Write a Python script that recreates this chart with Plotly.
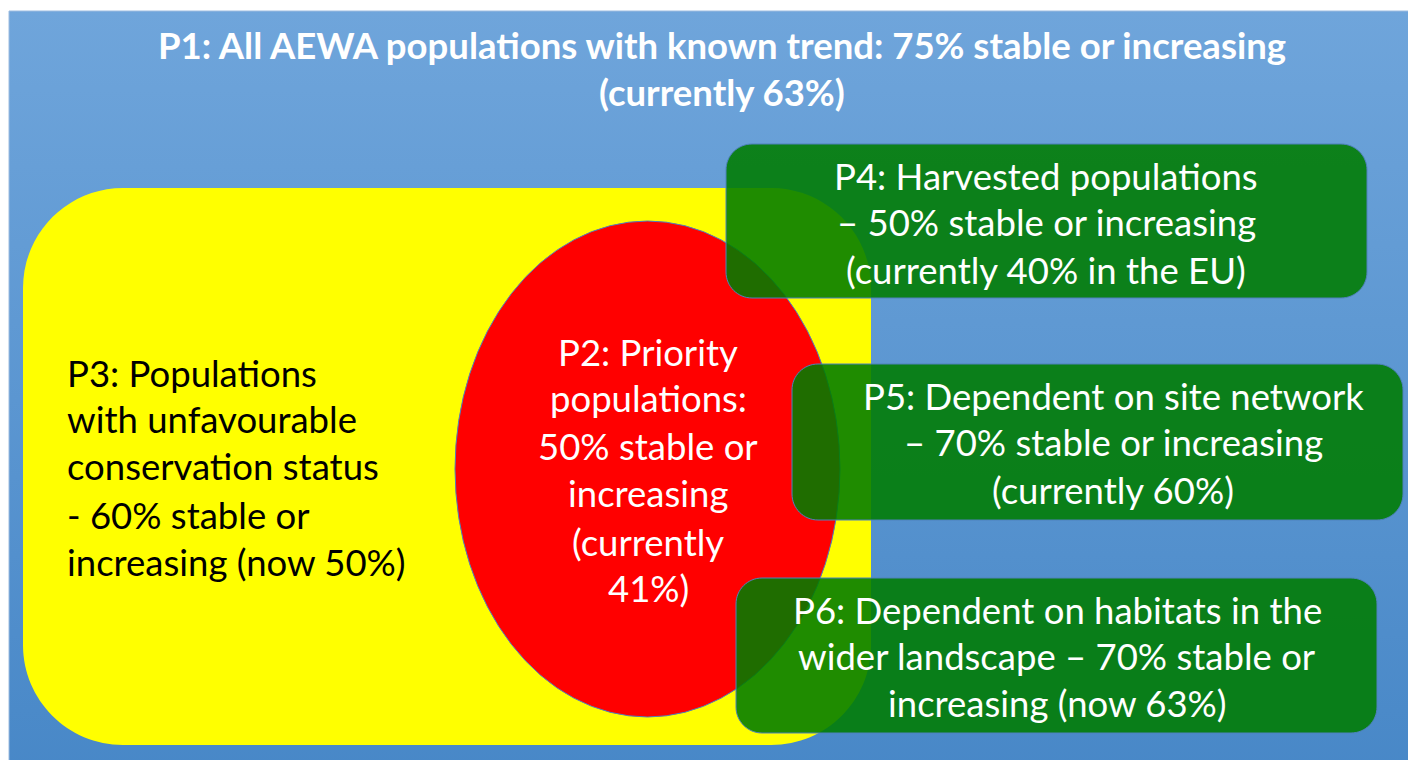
import plotly.graph_objects as go

# ---- content (text) ----
title_lines = ["P1: All AEWA populations with known trend: 75% stable or increasing",
               "(currently 63%)"]
p2_lines = ["P2: Priority", "populations:", "50% stable or", "increasing", "(currently", "41%)"]
p3_lines = ["P3: Populations", "with unfavourable", "conservation status",
            "- 60% stable or", "increasing (now 50%)"]
p4_lines = ["P4: Harvested populations", "– 50% stable or increasing", "(currently 40% in the EU)"]
p5_lines = ["P5: Dependent on site network", "– 70% stable or increasing", "(currently 60%)"]
p6_lines = ["P6: Dependent on habitats in the", "wider landscape – 70% stable or",
            "increasing (now 63%)"]

W, H = 1416, 760
OFF = 8  # page body offset of the figure
FONT = "Lato"
BLUE_TOP, BLUE_BOT = "#6FA5DB", "#4787C7"
YELLOW, RED = "#FFFF00", "#FF0000"
GREEN = "rgba(0,124,0,0.88)"
EDGE = "#4F81BD"


def rrect(x0, y0, x1, y1, r):
    x0, y0, x1, y1 = x0 - OFF, y0 - OFF, x1 - OFF, y1 - OFF
    k = 0.5523 * r
    return (f"M{x0+r},{y0} L{x1-r},{y0} C{x1-r+k},{y0} {x1},{y0+r-k} {x1},{y0+r} "
            f"L{x1},{y1-r} C{x1},{y1-r+k} {x1-r+k},{y1} {x1-r},{y1} "
            f"L{x0+r},{y1} C{x0+r-k},{y1} {x0},{y1-r+k} {x0},{y1-r} "
            f"L{x0},{y0+r} C{x0},{y0+r-k} {x0+r-k},{y0} {x0+r},{y0} Z")


fig = go.Figure()

# gradient background
bx0, by0, bx1, by1 = 9 - OFF, 11 - OFF, W + 20, H + 20
fig.add_trace(go.Scatter(
    x=[bx0, bx1, bx1, bx0, bx0], y=[by0, by0, by1, by1, by0],
    mode="lines", line=dict(color="#9DBCE0", width=1),
    fill="toself",
    fillgradient=dict(type="vertical", colorscale=[[0, BLUE_BOT], [1, BLUE_TOP]]),
    hoverinfo="skip", showlegend=False))

shapes = []
# yellow rounded rect
shapes.append(dict(type="path", path=rrect(23, 188, 871, 745, 100),
                   fillcolor=YELLOW, line=dict(width=0), layer="above"))
# red ellipse
shapes.append(dict(type="circle", x0=455 - OFF, y0=221 - OFF, x1=840 - OFF, y1=717 - OFF,
                   fillcolor=RED, line=dict(color=EDGE, width=1), layer="above"))
# green boxes
for (x0, y0, x1, y1) in [(726, 144, 1367, 298), (792, 364, 1403, 520), (736, 578, 1377, 733)]:
    shapes.append(dict(type="path", path=rrect(x0, y0, x1, y1, 26),
                       fillcolor=GREEN, line=dict(color=EDGE, width=1), layer="above"))

ann = []


def add_lines(lines, x, ys, color, size, bold=False, align="center"):
    for t, y in zip(lines, ys):
        txt = f"<b>{t}</b>" if bold else t
        ann.append(dict(x=x - OFF, y=y - OFF, xref="x", yref="y", text=txt, showarrow=False,
                        xanchor="left" if align == "left" else "center", yanchor="middle",
                        font=dict(family=FONT, size=size, color=color)))


SZ = 36.5
add_lines(title_lines, 722, [45, 92], "white", 36.5, bold=True)
add_lines(p3_lines, 65, [373, 419, 466, 515, 562], "black", SZ, align="left")
add_lines(p2_lines, 648, [352, 398, 446, 493, 542, 588], "white", SZ)
add_lines(p4_lines, 1046, [176, 222, 270], "white", SZ)
add_lines(p5_lines, 1113, [396, 442, 490], "white", SZ)
add_lines(p6_lines, 1057, [610, 656, 703], "white", SZ)

fig.update_layout(
    width=W, height=H, margin=dict(l=0, r=0, t=0, b=0),
    paper_bgcolor="white", plot_bgcolor="white",
    xaxis=dict(range=[0, W], visible=False, fixedrange=True),
    yaxis=dict(range=[H, 0], visible=False, fixedrange=True),
    shapes=shapes, annotations=ann, showlegend=False)

fig.write_html("out.html")
